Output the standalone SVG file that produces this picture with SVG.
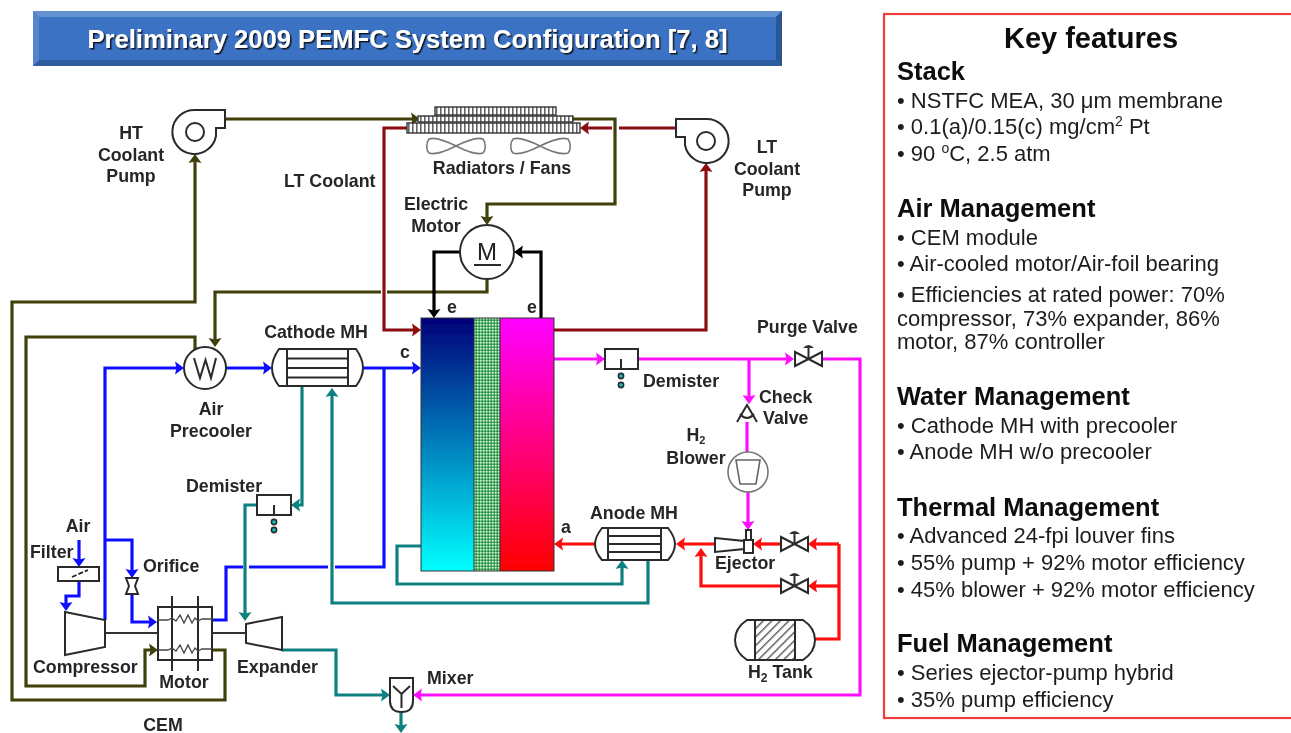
<svg xmlns="http://www.w3.org/2000/svg" width="1291" height="733" viewBox="0 0 1291 733">
<style>
text{font-family:"Liberation Sans",Arial,sans-serif}
.l{font-weight:700;font-size:17.800px;fill:#262626}
.m{text-anchor:middle}
.h{font-weight:700;font-size:25.500px;fill:#0a0a0a}
.b{font-size:22px;fill:#1c1c1c}
.c{fill:none;stroke-width:3.200;stroke-linejoin:miter}
.olive{stroke:#3f3f0c}.dred{stroke:#8c0c10}.blue{stroke:#0f0fff}.teal{stroke:#0f8080}.mag{stroke:#ff10ff}.red{stroke:#ff0a0a}.blk{stroke:#000}
.s{fill:#fff;stroke:#2a2a2a;stroke-width:2}
.n{fill:none;stroke:#2a2a2a;stroke-width:2}
.g{fill:#fff;stroke:#777;stroke-width:1.600}
.t{fill:none;stroke:#444;stroke-width:1.300}
</style>
<defs>
<marker id="aO" markerUnits="userSpaceOnUse" markerWidth="10" markerHeight="14" viewBox="0 0 10 14" refX="3" refY="7" orient="auto"><path d="M0,0.500L9,7L0,13.500L1.500,7Z" fill="#3f3f0c"/></marker>
<marker id="aD" markerUnits="userSpaceOnUse" markerWidth="10" markerHeight="14" viewBox="0 0 10 14" refX="3" refY="7" orient="auto"><path d="M0,0.500L9,7L0,13.500L1.500,7Z" fill="#8c0c10"/></marker>
<marker id="aB" markerUnits="userSpaceOnUse" markerWidth="10" markerHeight="14" viewBox="0 0 10 14" refX="3" refY="7" orient="auto"><path d="M0,0.500L9,7L0,13.500L1.500,7Z" fill="#0f0fff"/></marker>
<marker id="aT" markerUnits="userSpaceOnUse" markerWidth="10" markerHeight="14" viewBox="0 0 10 14" refX="3" refY="7" orient="auto"><path d="M0,0.500L9,7L0,13.500L1.500,7Z" fill="#0f8080"/></marker>
<marker id="aM" markerUnits="userSpaceOnUse" markerWidth="10" markerHeight="14" viewBox="0 0 10 14" refX="3" refY="7" orient="auto"><path d="M0,0.500L9,7L0,13.500L1.500,7Z" fill="#ff10ff"/></marker>
<marker id="aR" markerUnits="userSpaceOnUse" markerWidth="10" markerHeight="14" viewBox="0 0 10 14" refX="3" refY="7" orient="auto"><path d="M0,0.500L9,7L0,13.500L1.500,7Z" fill="#ff0a0a"/></marker>
<marker id="aK" markerUnits="userSpaceOnUse" markerWidth="10" markerHeight="14" viewBox="0 0 10 14" refX="3" refY="7" orient="auto"><path d="M0,0.500L9,7L0,13.500L1.500,7Z" fill="#000"/></marker>
<linearGradient id="gC" x1="0" y1="0" x2="0" y2="1"><stop offset="0" stop-color="#00007a"/><stop offset="1" stop-color="#00ffff"/></linearGradient>
<linearGradient id="gA" x1="0" y1="0" x2="0" y2="1"><stop offset="0" stop-color="#ff00ff"/><stop offset="1" stop-color="#ff0000"/></linearGradient>
<pattern id="pM" width="3" height="3" patternUnits="userSpaceOnUse"><rect width="3" height="3" fill="#5ab46e"/><rect width="1.500" height="1.500" fill="#d8f0dc"/><rect x="1.500" y="1.500" width="1.500" height="1.500" fill="#1f8a40"/></pattern>
<pattern id="pR" width="4" height="4" patternUnits="userSpaceOnUse"><rect width="4" height="4" fill="#fff"/><rect width="1.600" height="4" fill="#666"/></pattern>
<pattern id="pT" width="6" height="6" patternUnits="userSpaceOnUse" patternTransform="rotate(45)"><rect width="6" height="6" fill="#fff"/><rect width="1.400" height="6" fill="#555"/></pattern>
<filter id="soft" x="-2%" y="-2%" width="104%" height="104%"><feGaussianBlur stdDeviation="0.450"/></filter>
<filter id="sh" x="-5%" y="-30%" width="110%" height="170%"><feDropShadow dx="1.500" dy="1.500" stdDeviation="0.500" flood-color="#111" flood-opacity="0.900"/></filter>
</defs>
<rect width="1291" height="733" fill="#fff"/>
<g filter="url(#soft)">
<g id="title">
<rect x="33" y="11" width="749" height="55" fill="#3a72c4"/>
<path d="M33,11H782L776,17H39Z" fill="#6593d2"/>
<path d="M33,66H782L776,60H39Z" fill="#2f5d9f"/>
<path d="M33,11V66L39,60V17Z" fill="#5585cc"/>
<path d="M782,11V66L776,60V17Z" fill="#2c5796"/>
<text x="407.500" y="48" text-anchor="middle" font-weight="700" font-size="26" fill="#fff" filter="url(#sh)" textLength="640" lengthAdjust="spacingAndGlyphs">Preliminary 2009 PEMFC System Configuration [7, 8]</text>
</g>

<g id="connectors">
<path class="c olive" d="M225,119H414" marker-end="url(#aO)"/>
<path class="c olive" d="M212,650H225V700H12V302H195V160" marker-end="url(#aO)"/>
<path class="c olive" d="M195,350V337H26V686H145V650H152" marker-end="url(#aO)"/>
<path class="c olive" d="M487,279V292H387M381,292H215V341" marker-end="url(#aO)"/>
<path class="c olive" d="M573,119H615V204H487V219" marker-end="url(#aO)"/>
<path class="c dred" d="M676,128H619M612,128H586" marker-end="url(#aD)"/>
<path class="c dred" d="M407,128H384V330H415" marker-end="url(#aD)"/>
<path class="c dred" d="M554,330H706V169" marker-end="url(#aD)"/>
<path class="c blk" d="M460,252H434V312" marker-end="url(#aK)"/>
<path class="c blk" d="M541,318V252H520" marker-end="url(#aK)"/>
<path class="c blue" d="M226,368H266" marker-end="url(#aB)"/>
<path class="c blue" d="M363,368H415" marker-end="url(#aB)"/>
<path class="c blue" d="M384,368V567H335M328,567H249M243,567H226V620H212"/>
<path class="c blue" d="M105,620V368H178" marker-end="url(#aB)"/>
<path class="c blue" d="M105,540H132V572" marker-end="url(#aB)"/>
<path class="c blue" d="M132,594V622H151" marker-end="url(#aB)"/>
<path class="c blue" d="M79,540V561" marker-end="url(#aB)"/>
<path class="c blue" d="M79,581V596H66V605" marker-end="url(#aB)"/>
<path class="c teal" d="M302,386V505H297" marker-end="url(#aT)"/>
<path class="c teal" d="M257,505H245V615" marker-end="url(#aT)"/>
<path class="c teal" d="M648,560V603H332V394" marker-end="url(#aT)"/>
<path class="c teal" d="M421,546H397V584H622V566" marker-end="url(#aT)"/>
<path class="c teal" d="M282,650H336V695H384" marker-end="url(#aT)"/>
<path class="c teal" d="M401,712V727" marker-end="url(#aT)"/>
<path class="c mag" d="M554,359H599" marker-end="url(#aM)"/>
<path class="c mag" d="M638,359H788" marker-end="url(#aM)"/>
<path class="c mag" d="M822,359H860V695H419" marker-end="url(#aM)"/>
<path class="c mag" d="M749,359V398" marker-end="url(#aM)"/>
<path class="c mag" d="M747,422V452M748,492V524" marker-end="url(#aM)"/>
<path class="c red" d="M595,544H560" marker-end="url(#aR)"/>
<path class="c red" d="M715,544H682" marker-end="url(#aR)"/>
<path class="c red" d="M781,586H701V554" marker-end="url(#aR)"/>
<path class="c red" d="M781,544H759" marker-end="url(#aR)"/>
<path class="c red" d="M839,544H814" marker-end="url(#aR)"/>
<path class="c red" d="M839,586H814" marker-end="url(#aR)"/>
<path class="c red" d="M839,544V639H815"/>
</g>

<g id="ht-pump">
<path class="s" d="M195,110H225V128H216V136A22,22 0 1 1 195,110Z"/>
<circle class="n" cx="195" cy="132" r="9"/>
<text class="l m" x="131" y="139">HT</text><text class="l m" x="131" y="161">Coolant</text><text class="l m" x="131" y="182">Pump</text>
</g>
<g id="radiators">
<rect x="435" y="107" width="121" height="8" fill="url(#pR)" stroke="#333" stroke-width="1.400"/>
<rect x="418" y="116" width="155" height="6" fill="url(#pR)" stroke="#333" stroke-width="1.400"/>
<rect x="407" y="123" width="173" height="10" fill="url(#pR)" stroke="#333" stroke-width="1.400"/>
<path class="g" d="M456,146C442,139 434,137 429,139C426,143 426,150 429,153C434,155 442,153 456,146C470,139 478,137 483,139C486,143 486,150 483,153C478,155 470,153 456,146Z"/>
<path class="g" d="M540,146C526,139 518,137 513,139C510,143 510,150 513,153C518,155 526,153 540,146C554,139 562,137 568,139C571,143 571,150 568,153C562,155 554,153 540,146Z"/>
<text class="l m" x="502" y="174">Radiators / Fans</text>
</g>
<g id="lt-pump">
<path class="s" d="M706,119H676V137H685V145A22,22 0 1 0 706,119Z"/>
<circle class="n" cx="706" cy="141" r="9"/>
<text class="l m" x="767" y="153">LT</text><text class="l m" x="767" y="175">Coolant</text><text class="l m" x="767" y="196">Pump</text>
</g>
<g id="lt-coolant-label"><text class="l" x="284" y="187">LT Coolant</text></g>
<g id="electric-motor">
<circle class="s" cx="487" cy="252" r="27"/>
<path class="n" d="M474,265H501"/>
<text x="487" y="260" class="m" font-size="24" fill="#222">M</text>
<text class="l m" x="436" y="210">Electric</text><text class="l m" x="436" y="232">Motor</text>
</g>
<g id="stack">
<rect x="421" y="318" width="53" height="253" fill="url(#gC)"/>
<rect x="474" y="318" width="26" height="253" fill="url(#pM)"/>
<rect x="500" y="318" width="54" height="253" fill="url(#gA)"/>
<rect x="421" y="318" width="133" height="253" fill="none" stroke="#333" stroke-width="1"/>
<path d="M474,318V571M500,318V571" stroke="#333" stroke-width="1"/>
<text class="l m" x="452" y="313">e</text>
<text class="l m" x="532" y="313">e</text>
<text class="l m" x="405" y="358">c</text>
<text class="l m" x="566" y="533">a</text>
</g>
<g id="air-precooler">
<circle class="s" cx="205" cy="368" r="21"/>
<path class="n" d="M194,358L200,378L205.500,360L211,378L216,358"/>
<text class="l m" x="211" y="415">Air</text><text class="l m" x="211" y="437">Precooler</text>
</g>
<g id="cathode-mh">
<path class="s" d="M279,349H356Q363,359 363,368Q363,377 356,386H279Q272,377 272,368Q272,359 279,349Z"/>
<path class="n" d="M287,349V386M348,349V386M287,358.500H348M287,368H348M287,377.500H348"/>
<text class="l m" x="316" y="338">Cathode MH</text>
</g>
<g id="demister-left">
<rect class="s" x="257" y="495" width="34" height="20"/>
<path class="n" d="M274,505V515"/>
<circle cx="274" cy="522" r="2.600" fill="#10c8c8" stroke="#2a2a2a" stroke-width="1.600"/><circle cx="274" cy="530" r="2.600" fill="#10c8c8" stroke="#2a2a2a" stroke-width="1.600"/>
<text class="l" x="186" y="492">Demister</text>
</g>
<g id="filter">
<rect class="s" x="58" y="567" width="41" height="14"/>
<path d="M72,577L88,570" stroke="#222" stroke-width="1.800" stroke-dasharray="5 2" fill="none"/>
<text class="l m" x="78" y="532">Air</text><text class="l" x="30" y="558">Filter</text>
</g>
<g id="orifice">
<path class="s" d="M126,578H138L135,586L138,594H126L129,586Z"/>
<text class="l" x="143" y="572">Orifice</text>
</g>
<g id="compressor">
<path d="M105,633H158M212,633H246" stroke="#333" stroke-width="2" fill="none"/>
<path class="s" d="M65,612L105,620V647L65,655Z"/>
<text class="l" x="33" y="673">Compressor</text>
</g>
<g id="motor">
<rect class="n" x="158" y="607" width="54" height="53"/>
<path class="n" d="M172,596V671M198,596V671"/>
<path class="t" d="M158,620H168L172,618L176,621L180,615L184,623L188,615L192,623L195,618L198,621L202,619H212"/>
<path class="t" d="M158,650H168L172,648L176,651L180,645L184,653L188,645L192,653L195,648L198,651L202,649H212"/>
<text class="l m" x="184" y="688">Motor</text>
<text class="l m" x="163" y="731">CEM</text>
</g>
<g id="expander">
<path class="s" d="M246,624L282,617V650L246,643Z"/>
<text class="l" x="237" y="673">Expander</text>
</g>
<g id="mixer">
<path class="s" d="M390,678H413V701Q413,712 401.500,712Q390,712 390,701Z"/>
<path class="n" d="M393,686L401.500,694L410,686M401.500,694V708"/>
<text class="l" x="427" y="684">Mixer</text>
</g>
<g id="demister-right">
<rect class="s" x="605" y="349" width="33" height="20"/>
<path class="n" d="M621,359V369"/>
<circle cx="621" cy="376" r="2.600" fill="#10c8c8" stroke="#2a2a2a" stroke-width="1.600"/><circle cx="621" cy="385" r="2.600" fill="#10c8c8" stroke="#2a2a2a" stroke-width="1.600"/>
<text class="l" x="643" y="387">Demister</text>
</g>
<g id="purge-valve">
<path class="s" d="M795,352L822,366V352L795,366Z"/>
<path class="n" d="M808.500,359V348"/><path d="M803,348Q808.500,342 814,348Z" fill="#333"/>
<text class="l" x="757" y="333">Purge Valve</text>
</g>
<g id="check-valve">
<path class="n" d="M737,422L747,405L757,422"/><path class="n" d="M740,414Q747,422 754,414"/>
<text class="l" x="759" y="403">Check</text><text class="l" x="763" y="424">Valve</text>
</g>
<g id="h2-blower">
<circle class="g" cx="748" cy="472" r="20"/>
<path d="M736,460H760L756,484H740Z" fill="#fff" stroke="#666" stroke-width="1.600"/>
<text class="l m" x="696" y="441">H<tspan dy="3" font-size="11">2</tspan></text><text class="l m" x="696" y="464">Blower</text>
</g>
<g id="anode-mh">
<path class="s" d="M602,528H668Q675,537 675,544Q675,552 668,560H602Q595,552 595,544Q595,537 602,528Z"/>
<path class="n" d="M608,528V560M661,528V560M608,536H661M608,544H661M608,552H661"/>
<text class="l m" x="634" y="519">Anode MH</text>
</g>
<g id="ejector">
<path class="s" d="M715,538L744,541V549L715,552Z"/>
<rect class="s" x="744" y="540" width="9" height="13"/>
<rect class="s" x="746" y="530" width="5" height="10"/>
<text class="l" x="715" y="569">Ejector</text>
</g>
<g id="valve-1">
<path class="s" d="M781,537L808,551V537L781,551Z"/>
<path class="n" d="M794.500,544V534"/><path d="M789,534Q794.500,528 800,534Z" fill="#333"/>
</g>
<g id="valve-2">
<path class="s" d="M781,579L808,593V579L781,593Z"/>
<path class="n" d="M794.500,586V576"/><path d="M789,576Q794.500,570 800,576Z" fill="#333"/>
</g>
<g id="h2-tank">
<path class="s" d="M747,620H803Q815,628 815,640Q815,652 803,660H747Q735,652 735,640Q735,628 747,620Z"/>
<rect x="755" y="620" width="40" height="40" fill="url(#pT)" stroke="#2a2a2a" stroke-width="2"/>
<text class="l" x="748" y="678">H<tspan dy="4" font-size="12">2</tspan><tspan dy="-4"> Tank</tspan></text>
</g>

<g id="key-features">
<rect x="884" y="14" width="420" height="704" fill="none" stroke="#f03c3c" stroke-width="2.200"/>
<text x="1091" y="48" text-anchor="middle" font-weight="700" font-size="29" fill="#0a0a0a">Key features</text>
<text class="h" x="897" y="80">Stack</text>
<text class="b" x="897" y="108">• NSTFC MEA, 30 μm membrane</text>
<text class="b" x="897" y="134">• 0.1(a)/0.15(c) mg/cm<tspan dy="-8" font-size="14">2</tspan><tspan dy="8"> Pt</tspan></text>
<text class="b" x="897" y="161">• 90 <tspan dy="-8" font-size="14">o</tspan><tspan dy="8">C, 2.5 atm</tspan></text>
<text class="h" x="897" y="217">Air Management</text>
<text class="b" x="897" y="245">• CEM module</text>
<text class="b" x="897" y="271">• Air-cooled motor/Air-foil bearing</text>
<text class="b" x="897" y="302">• Efficiencies at rated power: 70%</text>
<text class="b" x="897" y="326">compressor, 73% expander, 86%</text>
<text class="b" x="897" y="349">motor, 87% controller</text>
<text class="h" x="897" y="405">Water Management</text>
<text class="b" x="897" y="433">• Cathode MH with precooler</text>
<text class="b" x="897" y="459">• Anode MH w/o precooler</text>
<text class="h" x="897" y="516">Thermal Management</text>
<text class="b" x="897" y="543">• Advanced 24-fpi louver fins</text>
<text class="b" x="897" y="570">• 55% pump + 92% motor efficiency</text>
<text class="b" x="897" y="597">• 45% blower + 92% motor efficiency</text>
<text class="h" x="897" y="652">Fuel Management</text>
<text class="b" x="897" y="680">• Series ejector-pump hybrid</text>
<text class="b" x="897" y="707">• 35% pump efficiency</text>
</g>
</g>
</svg>
